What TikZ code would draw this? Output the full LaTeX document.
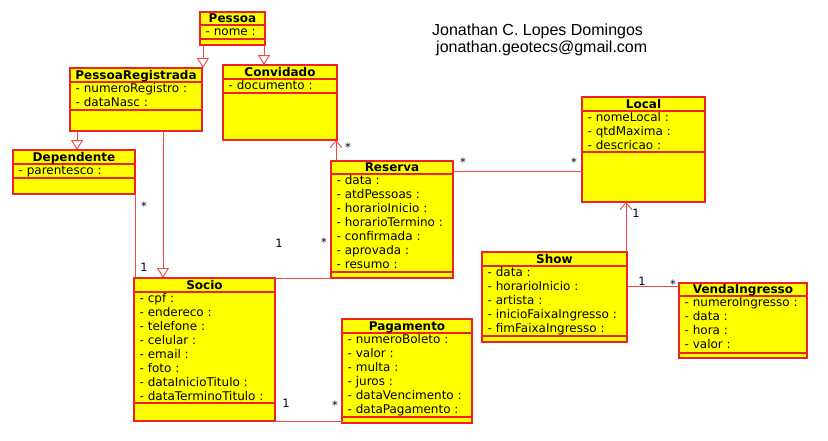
\documentclass[tikz,border=0pt]{standalone}
\usepackage{fontspec}
\setmainfont{DejaVu Sans}
\newfontfamily\authorfont{Liberation Sans}
\usetikzlibrary{arrows.meta}
\definecolor{boxred}{RGB}{238,34,34}
\definecolor{linered}{RGB}{240,70,70}
\definecolor{boxyellow}{RGB}{255,255,0}
\tikzset{
 clsbox/.style={draw=boxred, fill=boxyellow, line width=1.3pt, inner sep=0pt, outer sep=0pt},
 sepline/.style={draw=boxred, line width=1.1pt},
 clstitle/.style={font=\fontsize{12}{14}\selectfont\bfseries, inner sep=0pt, anchor=base},
 clsattr/.style={font=\fontsize{12}{14}\selectfont, inner sep=0pt, anchor=base west},
 assoc/.style={draw=linered, line width=0.9pt},
 gen/.style={assoc, -{Triangle[open, length=10pt, width=12pt, fill=white]}},
 nav/.style={assoc, -{Straight Barb[length=7pt, width=12pt]}},
 mult/.style={font=\fontsize{11.5}{13}\selectfont, inner sep=0pt, text=black!85!blue},
 author/.style={font=\authorfont\fontsize{16}{19}\selectfont, inner sep=0pt, anchor=base west},
}
\newcommand\umlclass[9]{%
 \node[clsbox, anchor=north west, minimum width={#4-#2}, minimum height={#5-#3}] (#1) at (#2,#3) {};
 \draw[sepline] (#2,#6) -- (#4,#6);
 \draw[sepline] (#2,#7) -- (#4,#7);
 \node[clstitle] (#1-t) at ({(#2+#4)/2},{#6-2.5}) {#8};
 \foreach \x [count=\i from 0] in {#9} {\node[clsattr] (#1-a\i) at ({#2+5.5},{#6+10.5+14*\i}) {- \x{} :};}
}
\begin{document}
\begin{tikzpicture}[x=1pt,y=-1pt]
\useasboundingbox (0,0) rectangle (828,440);
\umlclass{Pessoa}{200}{12}{265}{45}{25}{39}{Pessoa}{nome}
\umlclass{PR}{70}{68}{202}{131}{82}{110}{PessoaRegistrada}{numeroRegistro,dataNasc}
\umlclass{Convidado}{223}{65}{337}{140}{79}{93}{Convidado}{documento}
\umlclass{Dependente}{13}{150}{135}{194}{164}{178}{Dependente}{parentesco}
\umlclass{Socio}{134}{278}{275}{421}{292}{403}{Socio}{cpf,endereco,telefone,celular,email,foto,dataInicioTitulo,dataTerminoTitulo}
\umlclass{Reserva}{331}{161}{453}{278}{174}{272}{Reserva}{data,atdPessoas,horarioInicio,horarioTermino,confirmada,aprovada,resumo}
\umlclass{Local}{582}{97}{705}{202}{111}{152}{Local}{nomeLocal,qtdMaxima,descricao}
\umlclass{Show}{482}{252}{627}{342}{266}{336}{Show}{data,horarioInicio,artista,inicioFaixaIngresso,fimFaixaIngresso}
\umlclass{Venda}{679}{283}{807}{358}{296}{353}{VendaIngresso}{numeroIngresso,data,hora,valor}
\umlclass{Pagamento}{342}{319}{472}{423}{333}{417}{Pagamento}{numeroBoleto,valor,multa,juros,dataVencimento,dataPagamento}
% connectors
\coordinate (c1) at ([xshift=3pt]Pessoa.south west);
\draw[gen] (c1) -- (c1 |- PR.north);
\coordinate (c2) at ([xshift=-1pt]Pessoa.south east);
\draw[gen] (c2) -- (c2 |- Convidado.north);
\coordinate (c3) at ([xshift=7pt]PR.south west);
\draw[gen] (c3) -- (c3 |- Dependente.north);
\coordinate (c4) at ([xshift=93pt]PR.south west);
\draw[gen] (c4) -- (c4 |- Socio.north);
\draw[assoc] (Dependente.south east) -- (Dependente.south east |- Socio.north);
\coordinate (c5) at ([xshift=5pt]Reserva.north west);
\draw[nav] (c5) -- (c5 |- Convidado.south);
\draw[assoc] (Socio.north east) -- (Socio.north east -| Reserva.west);
\coordinate (c6) at ([yshift=-10pt]Reserva.north east);
\draw[assoc] (c6) -- (c6 -| Local.west);
\coordinate (c7) at ([xshift=-1pt]Show.north east);
\draw[nav] (c7) -- (c7 |- Local.south);
\coordinate (c8) at ([yshift=-34pt]Show.north east);
\draw[assoc] (c8) -- (c8 -| Venda.west);
\draw[assoc] (Socio.south east) -- (Socio.south east -| Pagamento.west);
% multiplicities
\node[mult] (m1) at (348,147.5) {*};
\node[mult] (m2) at (144,206.5) {*};
\node[mult] (m3) at (144,267) {1};
\node[mult] (m4) at (279,243) {1};
\node[mult] (m5) at (324,242.5) {*};
\node[mult] (m6) at (463,162.5) {*};
\node[mult] (m7) at (574,162.5) {*};
\node[mult] (m8) at (636,213) {1};
\node[mult] (m9) at (642,281) {1};
\node[mult] (m10) at (673,284.5) {*};
\node[mult] (m11) at (286,403) {1};
\node[mult] (m12) at (335,405.5) {*};
% author
\node[author] (auth1) at (432,35) {Jonathan C. Lopes Domingos};
\node[author] (auth2) at (436,52) {jonathan.geotecs@gmail.com};
\end{tikzpicture}
\end{document}
